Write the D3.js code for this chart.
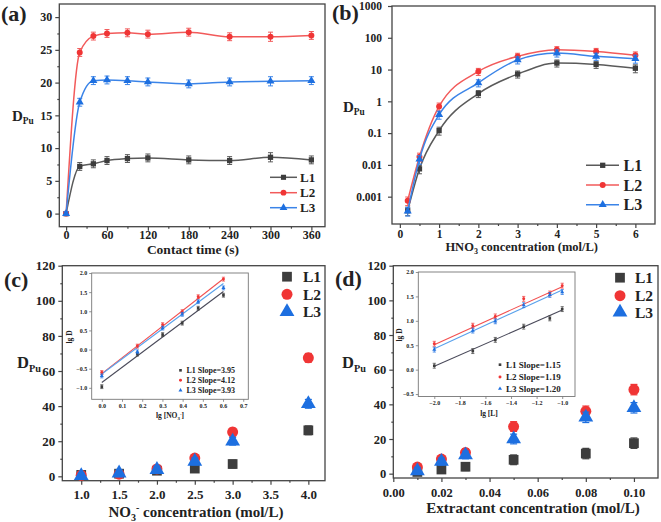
<!DOCTYPE html>
<html><head><meta charset="utf-8">
<script src="https://cdn.jsdelivr.net/npm/d3@7"></script>
<style>
body{margin:0;background:#fff}
svg{display:block}
text{font-family:"Liberation Serif","Times New Roman",serif;font-weight:bold;fill:#222}
</style>
</head><body>
<svg id="chart" width="661" height="522"></svg>
<script>
// ---------- data ----------
const seriesNames = ["L1", "L2", "L3"];
const markerColors = ["#3d3d3d", "#f03535", "#1d6fe0"];
const lineColors = ["#5a5a5a", "#f25a5a", "#3b84e8"];

// (a) contact time
const timeX = [0, 20, 40, 60, 90, 120, 180, 240, 300, 360];
const timeL1 = [0, 7.2, 7.6, 8.1, 8.4, 8.5, 8.2, 8.1, 8.6, 8.2];
const timeL2 = [0, 24.6, 27.1, 27.5, 27.6, 27.4, 27.7, 27.0, 27.0, 27.2];
const timeL3 = [0, 17.0, 20.3, 20.4, 20.3, 20.1, 19.8, 20.1, 20.2, 20.3];
const timeErr = [0.3, 0.6, 0.6, 0.6, 0.6, 0.6, 0.6, 0.6, 0.7, 0.6];
const timeTicks = [0, 60, 120, 180, 240, 300, 360];
const timeYTicks = [0, 5, 10, 15, 20, 25, 30];

// (b) HNO3 concentration (log scale)
const hno3X = [0.2, 0.5, 1, 2, 3, 4, 5, 6];
const hno3L1 = [0.00036, 0.0075, 0.12, 1.75, 7.2, 16, 14.5, 11];
const hno3L2 = [0.00075, 0.018, 0.69, 8.7, 26, 42, 37, 28];
const hno3L3 = [0.00035, 0.015, 0.38, 3.8, 20, 33, 26, 22];
const hno3RelErr = [0.3, 0.3, 0.28, 0.25, 0.25, 0.25, 0.25, 0.28];
const hno3Ticks = [0, 1, 2, 3, 4, 5, 6];
const hno3YTicks = [0.001, 0.01, 0.1, 1, 10, 100, 1000];

// (c) NO3- concentration
const no3X = [1.0, 1.5, 2.0, 2.5, 3.0, 4.0];
const no3L1 = [0.8, 1.5, 3.2, 4.4, 7.0, 26.2];
const no3L2 = [0.6, 1.2, 4.2, 10.4, 25.2, 67.5];
const no3L3 = [0.3, 1.8, 3.8, 8.5, 20.0, 41.3];
const no3Err = [1.5, 2.0, 2.0, 2.0, 2.2, 2.5];
const no3Ticks = [1.0, 1.5, 2.0, 2.5, 3.0, 3.5, 4.0];
const mainYTicks = [0, 20, 40, 60, 80, 100, 120];

// (c) inset lg D vs lg [NO3-]
const lgNo3X = [0, 0.176, 0.301, 0.398, 0.477, 0.602];
const lgNo3L1 = [-0.97, -0.12, 0.39, 0.69, 1.08, 1.42];
const lgNo3L2 = [-0.6, 0.09, 0.65, 0.99, 1.38, 1.84];
const lgNo3L3 = [-0.69, -0.06, 0.56, 0.92, 1.25, 1.61];
const lgNo3Fit = [[-0.86, 3.95], [-0.63, 4.12], [-0.64, 3.93]];
const lgNo3Slopes = ["3.95", "4.12", "3.93"];
const lgNo3Ticks = [0.0, 0.1, 0.2, 0.3, 0.4, 0.5, 0.6, 0.7];
const lgNo3YTicks = [-1.0, -0.5, 0.0, 0.5, 1.0, 1.5, 2.0];

// (d) extractant concentration
const extX = [0.01, 0.02, 0.03, 0.05, 0.08, 0.10];
const extL1 = [1.0, 2.4, 4.0, 8.0, 11.6, 17.6];
const extL2 = [3.8, 8.4, 12.2, 27.2, 36.0, 48.5];
const extL3 = [1.6, 7.0, 10.8, 20.0, 32.5, 38.0];
const extErr = [2.0, 2.0, 2.2, 2.8, 3.0, 3.0];
const extTicks = [0.00, 0.02, 0.04, 0.06, 0.08, 0.10];

// (d) inset lg D vs lg [L]
const lgLX = [-2, -1.699, -1.523, -1.301, -1.097, -1.0];
const lgLL1 = [0.08, 0.38, 0.61, 0.88, 1.05, 1.24];
const lgLL2 = [0.53, 0.9, 1.09, 1.45, 1.56, 1.72];
const lgLL3 = [0.41, 0.8, 0.99, 1.32, 1.53, 1.59];
const lgLFit = [[2.37, 1.15], [2.89, 1.19], [2.83, 1.20]];
const lgLSlopes = ["1.15", "1.19", "1.20"];
const lgLTicks = [-2.0, -1.8, -1.6, -1.4, -1.2, -1.0];
const lgLYTicks = [-0.5, 0.0, 0.5, 1.0, 1.5, 2.0];

// ---------- helpers ----------
const svg = d3.select("#chart");
const symbols = [d3.symbolSquare, d3.symbolCircle, d3.symbolTriangle];

function frame(g, box, stroke, sw) {
  g.append("rect").attr("x", box.x0).attr("y", box.y0)
    .attr("width", box.x1 - box.x0).attr("height", box.y1 - box.y0)
    .attr("fill", "#fff").attr("stroke", stroke).attr("stroke-width", sw);
}

function styleAxis(sel, color, sw, fs) {
  sel.select(".domain").remove();
  sel.selectAll("line").attr("stroke", color).attr("stroke-width", sw);
  sel.selectAll("text").attr("font-size", fs).style("fill", "#222");
}

function axes(g, box, x, y, o) {
  const bx = g.append("g").attr("transform", `translate(0,${box.y1})`)
    .call(d3.axisBottom(x).tickValues(o.xt).tickFormat(o.xf).tickSize(o.ts).tickPadding(o.xpad));
  styleAxis(bx, o.stroke, o.sw, o.fs);
  const by = g.append("g").attr("transform", `translate(${box.x0},0)`)
    .call(d3.axisLeft(y).tickValues(o.yt).tickFormat(o.yf).tickSize(o.ts).tickPadding(o.ypad));
  styleAxis(by, o.stroke, o.sw, o.fs);
  if (o.xm) {
    const m = g.append("g").attr("transform", `translate(0,${box.y1})`)
      .call(d3.axisBottom(x).tickValues(o.xm).tickFormat("").tickSize(o.ts / 2));
    styleAxis(m, o.stroke, o.sw, o.fs);
  }
  if (o.ym) {
    const m = g.append("g").attr("transform", `translate(${box.x0},0)`)
      .call(d3.axisLeft(y).tickValues(o.ym).tickFormat("").tickSize(o.ts / 2));
    styleAxis(m, o.stroke, o.sw, o.fs);
  }
}

function errBars(g, xs, ys, lo, hi, x, y, color, cap, sw) {
  xs.forEach((xv, i) => {
    const px = x(xv), y1 = y(lo[i]), y2 = y(hi[i]);
    g.append("line").attr("x1", px).attr("x2", px).attr("y1", y1).attr("y2", y2)
      .attr("stroke", color).attr("stroke-width", sw);
    [y1, y2].forEach(py => g.append("line").attr("x1", px - cap).attr("x2", px + cap)
      .attr("y1", py).attr("y2", py).attr("stroke", color).attr("stroke-width", sw));
  });
}

function markers(g, xs, ys, x, y, si, size, color) {
  g.selectAll(null).data(xs).enter().append("path")
    .attr("d", d3.symbol().type(symbols[si]).size(size))
    .attr("transform", (d, i) => `translate(${x(d)},${y(ys[i])})`)
    .attr("fill", color);
}

function dpuLabel(g, x, y, fs) {
  const t = g.append("text").attr("x", x).attr("y", y).attr("font-size", fs);
  t.append("tspan").text("D");
  t.append("tspan").attr("font-size", fs * 0.62).attr("dy", fs * 0.22).text("Pu");
}

function panelLabel(g, x, y, s) {
  g.append("text").attr("x", x).attr("y", y).attr("font-size", 22).text(s);
}

// ---------- (a) ----------
{
  const g = svg.append("g");
  const box = {x0: 59.3, x1: 325, y0: 4, y1: 226.7};
  const x = d3.scaleLinear().domain([-10, 380]).range([box.x0, box.x1]);
  const y = d3.scaleLinear().domain([-2, 32]).range([box.y1, box.y0]);
  frame(g, box, "#444", 1.3);
  axes(g, box, x, y, {xt: timeTicks, yt: timeYTicks, xf: d3.format("d"), yf: d3.format("d"),
    xm: [30, 90, 150, 210, 270, 330], ym: [2.5, 7.5, 12.5, 17.5, 22.5, 27.5],
    ts: 4, xpad: 0, ypad: 3, stroke: "#444", sw: 1.2, fs: 12});
  const data = [timeL1, timeL2, timeL3];
  data.forEach((ys, si) => {
    g.append("path").datum(timeX)
      .attr("d", d3.line().x(d => x(d)).y((d, i) => y(ys[i])).curve(d3.curveMonotoneX))
      .attr("fill", "none").attr("stroke", lineColors[si]).attr("stroke-width", 1.5);
    errBars(g, timeX, ys, ys.map((v, i) => v - timeErr[i]), ys.map((v, i) => v + timeErr[i]),
      x, y, lineColors[si], 2.5, 1);
    markers(g, timeX, ys, x, y, si, 28, markerColors[si]);
  });
  // legend
  [177.3, 192.7, 207.7].forEach((cy, si) => {
    g.append("line").attr("x1", 270).attr("x2", 297).attr("y1", cy).attr("y2", cy)
      .attr("stroke", lineColors[si]).attr("stroke-width", 1.5);
    g.append("path").attr("d", d3.symbol().type(symbols[si]).size(26)())
      .attr("transform", `translate(283.5,${cy})`).attr("fill", markerColors[si]);
    g.append("text").attr("x", 300).attr("y", cy + 4.5).attr("font-size", 13).text(seriesNames[si]);
  });
  g.append("text").attr("x", 193).attr("y", 254).attr("text-anchor", "middle")
    .attr("font-size", 13.5).text("Contact time (s)");
  dpuLabel(g, 12, 121, 15);
  panelLabel(g, 1, 21, "(a)");
}

// ---------- (b) ----------
{
  const g = svg.append("g");
  const box = {x0: 392, x1: 655, y0: 6, y1: 224};
  const x = d3.scaleLinear().domain([-0.2, 6.5]).range([box.x0, box.x1]);
  const y = d3.scaleLog().domain([Math.pow(10, -3.86), 1000]).range([box.y1, box.y0]);
  frame(g, box, "#444", 1.3);
  axes(g, box, x, y, {xt: hno3Ticks, yt: hno3YTicks, xf: d3.format("d"), yf: d => String(d),
    xm: [0.5, 1.5, 2.5, 3.5, 4.5, 5.5],
    ts: 4, xpad: 2, ypad: 6, stroke: "#444", sw: 1.2, fs: 11.5});
  const data = [hno3L1, hno3L2, hno3L3];
  data.forEach((ys, si) => {
    g.append("path").datum(hno3X)
      .attr("d", d3.line().x(d => x(d)).y((d, i) => y(ys[i])).curve(d3.curveMonotoneX))
      .attr("fill", "none").attr("stroke", lineColors[si]).attr("stroke-width", 1.5);
    errBars(g, hno3X, ys, ys.map((v, i) => v * (1 - hno3RelErr[i])), ys.map((v, i) => v * (1 + hno3RelErr[i])),
      x, y, lineColors[si], 2.5, 1);
    markers(g, hno3X, ys, x, y, si, 28, markerColors[si]);
  });
  [165.3, 185, 204.7].forEach((cy, si) => {
    g.append("line").attr("x1", 586).attr("x2", 619).attr("y1", cy).attr("y2", cy)
      .attr("stroke", lineColors[si]).attr("stroke-width", 1.5);
    g.append("path").attr("d", d3.symbol().type(symbols[si]).size(28)())
      .attr("transform", `translate(602.7,${cy})`).attr("fill", markerColors[si]);
    g.append("text").attr("x", 623.5).attr("y", cy + 5.5).attr("font-size", 16).text(seriesNames[si]);
  });
  const t = g.append("text").attr("x", 521.7).attr("y", 250.5).attr("text-anchor", "middle").attr("font-size", 12.5);
  t.append("tspan").text("HNO");
  t.append("tspan").attr("font-size", 8).attr("dy", 3).text("3");
  t.append("tspan").attr("dy", -3).text(" concentration (mol/L)");
  dpuLabel(g, 343, 112, 15);
  panelLabel(g, 332, 20, "(b)");
}

// ---------- scatter panel with inset ----------
function scatterPanel(cfg) {
  const g = svg.append("g");
  const box = cfg.box;
  const x = d3.scaleLinear().domain(cfg.xd).range([box.x0, box.x1]);
  const y = d3.scaleLinear().domain([-2.5, 120]).range([box.y1, box.y0]);
  frame(g, box, "#444", 1.3);
  axes(g, box, x, y, {xt: cfg.xt, yt: mainYTicks, xf: cfg.xf, yf: d3.format("d"),
    xm: cfg.xm, ym: [10, 30, 50, 70, 90, 110],
    ts: 4, xpad: cfg.xpad, ypad: cfg.ypad, stroke: "#444", sw: 1.2, fs: cfg.fs});
  cfg.data.forEach((ys, si) => {
    errBars(g, cfg.xs, ys, ys.map((v, i) => v - cfg.err[i]), ys.map((v, i) => v + cfg.err[i]),
      x, y, markerColors[si], 3.5, 1.2);
    markers(g, cfg.xs, ys, x, y, si, 95, markerColors[si]);
  });
  cfg.legY.forEach((cy, si) => {
    g.append("path").attr("d", d3.symbol().type(symbols[si]).size(95)())
      .attr("transform", `translate(${cfg.legX},${cy})`).attr("fill", markerColors[si]);
    g.append("text").attr("x", cfg.legTX).attr("y", cy + 5.5).attr("font-size", 15.5).text(seriesNames[si]);
  });

  // inset
  const ib = cfg.ibox;
  const ix = d3.scaleLinear().domain(cfg.ixd).range([ib.x0, ib.x1]);
  const iy = d3.scaleLinear().domain(cfg.iyd).range([ib.y1, ib.y0]);
  frame(g, ib, "#777", 0.9);
  axes(g, ib, ix, iy, {xt: cfg.ixt, yt: cfg.iyt, xf: d3.format(".1f"), yf: d3.format(".1f"),
    ts: 2.5, xpad: 2, ypad: 2, stroke: "#777", sw: 0.8, fs: 6});
  const fitCols = ["#4a4a5a", "#f25050", "#5aa2ec"];
  cfg.idata.forEach((ys, si) => {
    const fit = cfg.fit[si];
    const xa = cfg.ixs[0], xb = cfg.ixs[cfg.ixs.length - 1];
    g.append("line").attr("x1", ix(xa)).attr("x2", ix(xb))
      .attr("y1", iy(fit[0] + fit[1] * xa)).attr("y2", iy(fit[0] + fit[1] * xb))
      .attr("stroke", fitCols[si]).attr("stroke-width", 1.1);
  });
  cfg.idata.forEach((ys, si) => {
    errBars(g, cfg.ixs, ys, ys.map(v => v - 0.05), ys.map(v => v + 0.05),
      ix, iy, markerColors[si], 1.6, 0.7);
    markers(g, cfg.ixs, ys, ix, iy, si, 7, markerColors[si]);
  });
  cfg.ilegY.forEach((cy, si) => {
    g.append("path").attr("d", d3.symbol().type(symbols[si]).size(7)())
      .attr("transform", `translate(${cfg.ilegX},${cy})`).attr("fill", markerColors[si]);
    g.append("text").attr("x", cfg.ilegX + 6).attr("y", cy + 2.8).attr("font-size", cfg.ilegFs)
      .text(`${seriesNames[si]} Slope=${cfg.slopes[si]}`);
  });
  g.append("text").attr("transform", `translate(${cfg.lgDX},${cfg.lgDY}) rotate(-90)`)
    .attr("text-anchor", "middle").attr("font-size", 7.5).text("lg D");
  cfg.ixLabel(g.append("text").attr("x", cfg.ixlX).attr("y", cfg.ixlY).attr("text-anchor", "middle").attr("font-size", 7.5));

  cfg.xLabel(g.append("text").attr("x", cfg.xlX).attr("y", cfg.xlY).attr("text-anchor", "middle").attr("font-size", 15));
  dpuLabel(g, cfg.dpuX, cfg.dpuY, 16.5);
  panelLabel(g, cfg.plX, cfg.plY, cfg.pl);
}

scatterPanel({
  box: {x0: 62.3, x1: 325, y0: 265.7, y1: 480.7}, xd: [0.75, 4.22],
  xt: no3Ticks, xf: d3.format(".1f"), xm: [1.25, 1.75, 2.25, 2.75, 3.25, 3.75], xpad: 5, ypad: 3, fs: 13,
  xs: no3X, data: [no3L1, no3L2, no3L3], err: no3Err,
  legX: 287, legTX: 303, legY: [276.7, 294.3, 311.7],
  ibox: {x0: 91.7, x1: 248.3, y0: 273, y1: 399.3}, ixd: [-0.05, 0.725], iyd: [-1.3, 2.0],
  ixt: lgNo3Ticks, iyt: lgNo3YTicks, ixs: lgNo3X, idata: [lgNo3L1, lgNo3L2, lgNo3L3],
  fit: lgNo3Fit, slopes: lgNo3Slopes, ilegX: 180.5, ilegY: [370.3, 380.3, 390.3], ilegFs: 8,
  lgDX: 72, lgDY: 337, ixlX: 170, ixlY: 418,
  ixLabel: t => { t.append("tspan").text("lg [NO"); t.append("tspan").attr("font-size", 5).attr("dy", 2).text("3");
    t.append("tspan").attr("font-size", 5).attr("dy", -5).text("-"); t.append("tspan").attr("dy", 3).text("]"); },
  xlX: 196, xlY: 517,
  xLabel: t => { t.append("tspan").text("NO"); t.append("tspan").attr("font-size", 10).attr("dy", 4).text("3");
    t.append("tspan").attr("font-size", 10).attr("dy", -10).text("-"); t.append("tspan").attr("dy", 6).text(" concentration (mol/L)"); },
  dpuX: 17, dpuY: 368, plX: 4, plY: 287, pl: "(c)"
});

scatterPanel({
  box: {x0: 393.3, x1: 658, y0: 265.7, y1: 478}, xd: [0, 0.11],
  xt: extTicks, xf: d3.format(".2f"), xm: [0.01, 0.03, 0.05, 0.07, 0.09], xpad: 6, ypad: 3, fs: 12.5,
  xs: extX, data: [extL1, extL2, extL3], err: extErr,
  legX: 620, legTX: 635, legY: [277.7, 295.7, 312.3],
  ibox: {x0: 418.3, x1: 575, y0: 272, y1: 396.5}, ixd: [-2.125, -0.9], iyd: [-0.55, 2.0],
  ixt: lgLTicks, iyt: lgLYTicks, ixs: lgLX, idata: [lgLL1, lgLL2, lgLL3],
  fit: lgLFit, slopes: lgLSlopes, ilegX: 500, ilegY: [364.7, 377, 388.7], ilegFs: 9,
  lgDX: 402, lgDY: 335, ixlX: 489, ixlY: 416,
  ixLabel: t => { t.text("lg [L]"); },
  xlX: 533, xlY: 513,
  xLabel: t => { t.text("Extractant concentration (mol/L)"); },
  dpuX: 342, dpuY: 368, plX: 335, plY: 286, pl: "(d)"
});
</script>
</body></html>
